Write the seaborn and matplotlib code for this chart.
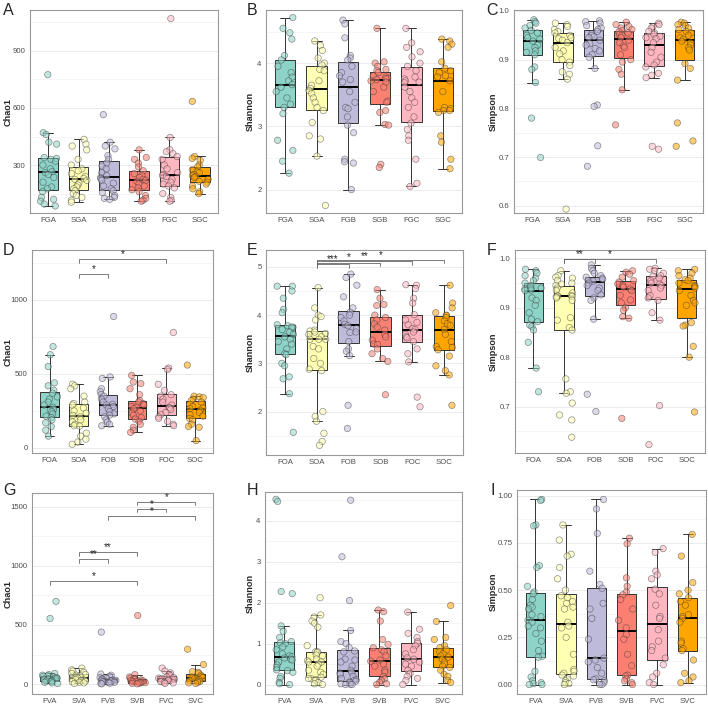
import numpy as np
import pandas as pd
import seaborn as sns
import matplotlib.pyplot as plt

# gruppi (asse x) per riga
groups_row1 = ["FGA", "SGA", "FGB", "SGB", "FGC", "SGC"]
groups_row2 = ["FOA", "SOA", "FOB", "SOB", "FOC", "SOC"]
groups_row3 = ["FVA", "SVA", "FVB", "SVB", "FVC", "SVC"]

# A - Chao1
chao1_A = [
    [775, 470, 460, 420, 410, 335, 330, 340, 320, 300, 280, 265, 260, 250, 235, 210, 185, 175, 160, 130, 120, 110, 95, 85],
    [435, 410, 400, 380, 330, 300, 280, 270, 255, 240, 230, 225, 220, 205, 195, 185, 175, 165, 150, 140, 130, 115, 105],
    [565, 420, 400, 385, 350, 330, 310, 295, 280, 260, 245, 235, 228, 220, 205, 190, 175, 165, 155, 140, 130, 125, 120],
    [380, 340, 330, 310, 290, 270, 255, 245, 235, 225, 220, 215, 200, 190, 180, 170, 160, 140, 125, 115, 110],
    [1070, 445, 380, 370, 360, 345, 330, 300, 280, 260, 250, 245, 240, 225, 210, 200, 190, 180, 150, 130, 115, 110],
    [635, 345, 335, 325, 300, 290, 275, 265, 260, 250, 245, 240, 235, 225, 215, 210, 200, 190, 175, 160, 150],
]
# B - Shannon
shannon_B = [
    [4.72, 4.55, 4.48, 4.38, 4.12, 4.05, 3.95, 3.85, 3.78, 3.72, 3.66, 3.62, 3.55, 3.45, 3.35, 3.3, 3.2, 2.78, 2.62, 2.45, 2.26],
    [4.35, 4.28, 4.2, 4.08, 4.0, 3.97, 3.9, 3.88, 3.72, 3.65, 3.6, 3.57, 3.52, 3.45, 3.38, 3.3, 3.25, 3.06, 2.85, 2.8, 2.53, 1.75],
    [4.68, 4.62, 4.4, 4.12, 4.08, 4.05, 3.95, 3.85, 3.8, 3.74, 3.7, 3.55, 3.38, 3.3, 3.28, 3.15, 3.02, 2.9, 2.48, 2.44, 2.42, 2.0],
    [4.55, 4.02, 4.0, 3.95, 3.9, 3.88, 3.85, 3.8, 3.78, 3.76, 3.75, 3.74, 3.72, 3.7, 3.62, 3.55, 3.4, 3.38, 3.25, 3.22, 3.03, 3.02, 2.4, 2.35],
    [4.55, 4.32, 4.25, 4.18, 4.1, 4.0, 3.95, 3.88, 3.78, 3.75, 3.72, 3.7, 3.69, 3.62, 3.55, 3.45, 3.38, 3.3, 3.15, 3.05, 2.95, 2.85, 2.78, 2.48, 2.1, 2.05],
    [4.38, 4.35, 4.3, 4.25, 4.02, 3.92, 3.88, 3.85, 3.8, 3.78, 3.72, 3.55, 3.3, 3.28, 3.25, 3.25, 3.22, 2.85, 2.75, 2.48, 2.33],
]
# C - Simpson
simpson_C = [
    [0.982, 0.978, 0.975, 0.97, 0.965, 0.96, 0.955, 0.95, 0.945, 0.942, 0.938, 0.93, 0.925, 0.918, 0.915, 0.91, 0.885, 0.88, 0.853, 0.78, 0.699],
    [0.975, 0.972, 0.968, 0.962, 0.958, 0.955, 0.95, 0.945, 0.943, 0.94, 0.935, 0.925, 0.918, 0.912, 0.9, 0.895, 0.888, 0.875, 0.87, 0.86, 0.593],
    [0.98, 0.978, 0.975, 0.97, 0.965, 0.962, 0.958, 0.953, 0.95, 0.947, 0.945, 0.94, 0.933, 0.93, 0.923, 0.918, 0.91, 0.905, 0.882, 0.807, 0.804, 0.723, 0.681],
    [0.977, 0.972, 0.968, 0.965, 0.962, 0.96, 0.957, 0.955, 0.952, 0.95, 0.945, 0.94, 0.935, 0.928, 0.925, 0.91, 0.9, 0.895, 0.88, 0.87, 0.838, 0.766],
    [0.975, 0.972, 0.968, 0.965, 0.958, 0.955, 0.952, 0.948, 0.945, 0.943, 0.935, 0.925, 0.915, 0.905, 0.895, 0.889, 0.885, 0.872, 0.868, 0.863, 0.722, 0.716],
    [0.977, 0.975, 0.972, 0.97, 0.965, 0.962, 0.958, 0.955, 0.95, 0.945, 0.942, 0.938, 0.935, 0.93, 0.925, 0.92, 0.892, 0.882, 0.858, 0.77, 0.733, 0.722],
]
# D - Chao1
chao1_D = [
    [685, 630, 550, 440, 420, 390, 370, 345, 330, 310, 290, 275, 262, 255, 245, 230, 215, 205, 190, 170, 145, 120, 80],
    [430, 420, 400, 350, 310, 300, 290, 270, 250, 235, 220, 210, 190, 175, 160, 150, 148, 100, 80, 60, 40, 25],
    [888, 480, 470, 400, 380, 360, 350, 330, 310, 295, 290, 280, 265, 245, 230, 222, 210, 190, 175, 160, 150],
    [490, 445, 435, 400, 360, 320, 310, 300, 290, 280, 275, 265, 250, 235, 220, 205, 195, 180, 160, 140, 120, 105],
    [780, 540, 530, 430, 390, 360, 350, 330, 310, 290, 275, 270, 260, 240, 225, 210, 200, 180, 160, 150],
    [560, 350, 345, 340, 330, 320, 310, 295, 280, 270, 265, 255, 240, 225, 215, 200, 190, 160, 145, 140, 50],
]
# E - Shannon
shannon_E = [
    [4.6, 4.6, 4.5, 4.35, 4.12, 4.05, 3.8, 3.78, 3.75, 3.75, 3.7, 3.65, 3.6, 3.55, 3.5, 3.45, 3.4, 3.3, 3.2, 3.18, 3.0, 2.95, 2.72, 2.68, 2.37, 1.57],
    [4.57, 4.15, 4.0, 3.97, 3.9, 3.69, 3.67, 3.65, 3.62, 3.6, 3.55, 3.5, 3.5, 3.5, 3.35, 3.3, 3.1, 3.0, 2.88, 2.85, 2.0, 1.9, 1.8, 1.55, 1.38, 1.3],
    [4.85, 4.78, 4.62, 4.38, 4.15, 4.06, 4.0, 3.95, 3.88, 3.81, 3.78, 3.72, 3.65, 3.64, 3.45, 3.3, 3.25, 3.16, 2.13, 1.65],
    [4.53, 4.35, 4.22, 4.2, 4.0, 3.95, 3.9, 3.82, 3.75, 3.69, 3.6, 3.55, 3.48, 3.4, 3.39, 3.3, 3.2, 3.1, 3.04, 2.35],
    [4.63, 4.62, 4.55, 4.35, 4.25, 4.01, 3.9, 3.85, 3.8, 3.72, 3.7, 3.65, 3.6, 3.55, 3.53, 3.45, 3.3, 3.2, 3.03, 2.3, 2.1],
    [4.62, 4.25, 4.15, 4.05, 4.0, 3.99, 3.95, 3.88, 3.82, 3.79, 3.7, 3.6, 3.45, 3.35, 3.33, 3.28, 3.15, 2.95, 2.85, 2.76, 2.13],
]
# F - Simpson
simpson_F = [
    [0.978, 0.975, 0.97, 0.965, 0.96, 0.955, 0.95, 0.945, 0.94, 0.94, 0.938, 0.936, 0.935, 0.92, 0.915, 0.905, 0.89, 0.877, 0.872, 0.865, 0.862, 0.855, 0.83, 0.778, 0.73],
    [0.975, 0.965, 0.962, 0.96, 0.955, 0.95, 0.948, 0.945, 0.94, 0.935, 0.93, 0.925, 0.924, 0.924, 0.923, 0.922, 0.92, 0.915, 0.88, 0.875, 0.86, 0.855, 0.756, 0.73, 0.727, 0.707, 0.683, 0.673, 0.638],
    [0.987, 0.98, 0.975, 0.97, 0.965, 0.962, 0.96, 0.958, 0.955, 0.954, 0.95, 0.945, 0.94, 0.935, 0.926, 0.92, 0.915, 0.877, 0.725, 0.69],
    [0.975, 0.972, 0.968, 0.962, 0.955, 0.952, 0.948, 0.945, 0.942, 0.938, 0.935, 0.925, 0.916, 0.91, 0.9, 0.895, 0.882, 0.879, 0.676],
    [0.98, 0.978, 0.975, 0.97, 0.965, 0.964, 0.96, 0.955, 0.95, 0.948, 0.945, 0.94, 0.935, 0.925, 0.92, 0.915, 0.89, 0.875, 0.702, 0.623],
    [0.978, 0.975, 0.97, 0.965, 0.96, 0.957, 0.955, 0.95, 0.945, 0.943, 0.94, 0.935, 0.925, 0.915, 0.91, 0.905, 0.87, 0.865, 0.863, 0.822, 0.8, 0.689],
]
# G - Chao1
chao1_G = [
    [700, 555, 90, 80, 75, 70, 65, 60, 55, 50, 48, 45, 42, 40, 35, 30, 25, 20, 15, 10, 5],
    [135, 120, 110, 100, 90, 80, 75, 70, 60, 55, 50, 45, 40, 35, 30, 25, 20, 15, 10, 5],
    [440, 85, 75, 65, 55, 48, 45, 40, 35, 32, 30, 28, 25, 20, 18, 15, 12, 8, 5, 2],
    [580, 80, 60, 50, 45, 40, 35, 30, 28, 25, 22, 20, 15, 12, 10, 8, 5, 2],
    [135, 110, 95, 80, 70, 60, 55, 50, 45, 42, 40, 35, 30, 25, 20, 15, 10, 5],
    [295, 165, 105, 100, 90, 75, 65, 60, 55, 50, 45, 42, 38, 30, 25, 20, 15, 10, 5],
]
# H - Shannon
shannon_H = [
    [4.52, 4.47, 2.27, 2.22, 1.43, 1.3, 1.15, 1.05, 1.02, 1.0, 0.92, 0.85, 0.75, 0.7, 0.68, 0.65, 0.62, 0.6, 0.55, 0.48, 0.42, 0.36, 0.34, 0.3, 0.2, 0.15, 0.05, 0.02, 0.0],
    [2.12, 1.7, 1.65, 1.55, 1.5, 1.4, 0.95, 0.8, 0.8, 0.78, 0.72, 0.7, 0.62, 0.58, 0.55, 0.55, 0.5, 0.45, 0.35, 0.3, 0.25, 0.14, 0.18, 0.15, 0.12, 0.1, 0.05, 0.02, 0.0],
    [4.5, 3.12, 2.05, 1.32, 1.05, 1.0, 0.9, 0.82, 0.8, 0.62, 0.6, 0.55, 0.45, 0.35, 0.3, 0.28, 0.25, 0.2, 0.15, 0.12, 0.1, 0.08, 0.06, 0.05, 0.02, 0.01, 0.0, 0.0],
    [1.82, 1.78, 1.55, 1.1, 0.98, 0.9, 0.85, 0.8, 0.7, 0.6, 0.57, 0.5, 0.45, 0.35, 0.3, 0.2, 0.14, 0.1, 0.05, 0.02, 0.0],
    [1.77, 1.35, 1.25, 1.15, 1.05, 1.01, 0.95, 0.85, 0.75, 0.65, 0.62, 0.55, 0.5, 0.45, 0.35, 0.27, 0.2, 0.15, 0.1, 0.0],
    [1.93, 1.54, 1.15, 1.1, 0.95, 0.9, 0.85, 0.8, 0.75, 0.7, 0.67, 0.62, 0.55, 0.5, 0.45, 0.42, 0.35, 0.25, 0.2, 0.1, 0.05],
]
# I - Simpson
simpson_I = [
    [0.98, 0.975, 0.845, 0.84, 0.63, 0.62, 0.52, 0.49, 0.48, 0.45, 0.42, 0.41, 0.4, 0.37, 0.36, 0.34, 0.33, 0.31, 0.3, 0.27, 0.23, 0.18, 0.15, 0.145, 0.07, 0.04, 0.02, 0.01, 0.005, 0.0, 0.0],
    [0.845, 0.765, 0.69, 0.68, 0.62, 0.56, 0.5, 0.47, 0.46, 0.44, 0.43, 0.41, 0.4, 0.33, 0.31, 0.3, 0.25, 0.16, 0.08, 0.07, 0.06, 0.05, 0.045, 0.03, 0.02, 0.01, 0.005, 0.0],
    [0.98, 0.93, 0.8, 0.6, 0.53, 0.51, 0.43, 0.4, 0.35, 0.24, 0.14, 0.13, 0.12, 0.09, 0.06, 0.03, 0.025, 0.02, 0.01, 0.0, 0.0],
    [0.775, 0.745, 0.565, 0.52, 0.49, 0.475, 0.45, 0.4, 0.34, 0.3, 0.265, 0.24, 0.16, 0.1, 0.05, 0.045, 0.03, 0.02, 0.01, 0.0],
    [0.72, 0.7, 0.6, 0.58, 0.56, 0.505, 0.48, 0.42, 0.36, 0.35, 0.29, 0.23, 0.2, 0.18, 0.14, 0.105, 0.06, 0.04, 0.01, 0.0],
    [0.795, 0.68, 0.54, 0.5, 0.48, 0.46, 0.44, 0.42, 0.37, 0.36, 0.35, 0.33, 0.23, 0.22, 0.19, 0.18, 0.13, 0.06, 0.04, 0.02, 0.01],
]

# confronti significativi: (gruppo1, gruppo2, altezza, etichetta)
signif_D = [("SOA", "FOB", 1173, "*"), ("SOA", "FOC", 1274, "*")]
signif_E = [("SOA", "FOB", 5.06, "***"), ("SOA", "SOB", 5.09, "*"),
            ("SOA", "FOC", 5.12, "**"), ("SOA", "SOC", 5.15, "*")]
signif_F = [("SOA", "FOB", 0.998, "**"), ("SOA", "FOC", 0.998, "*")]
signif_G = [("FVA", "SVB", 872, "*"), ("SVA", "FVB", 1059, "**"), ("SVA", "SVB", 1117, "**"),
            ("FVB", "SVC", 1422, "*"), ("SVB", "FVC", 1483, "*"), ("SVB", "SVC", 1542, "*")]

palette = ["#8DD3C7", "#FFFFB3", "#BEBADA", "#FB8072", "#FFB6C1", "#FFA500"]

sns.set_style("white")
plt.rcParams["font.family"] = ["Liberation Sans", "DejaVu Sans"]

fig = plt.figure(figsize=(7.08, 7.08), dpi=100)
W = H = 708.0


def add_ax(l, r, t, b):
    return fig.add_axes([l / W, 1 - b / H, (r - l) / W, (b - t) / H])


# lettera, riquadro (l, r, t, b in px), gruppi, dati, etichetta y, limiti, tick, formato, confronti,
# posizione lettera, centro x etichetta y (px)
panels = [
    ("A", (30, 218, 10, 213), groups_row1, chao1_A, "Chao1", (48, 1115), [300, 600, 900], "{:.0f}", [], (3, 3), 8),
    ("B", (266, 462, 10, 213), groups_row1, shannon_B, "Shannon", (1.63, 4.84), [2, 3, 4], "{:.0f}", [], (247, 3), 250),
    ("C", (514, 703, 10, 213), groups_row1, simpson_C, "Simpson", (0.585, 1.002), [0.6, 0.7, 0.8, 0.9, 1.0], "{:.1f}", [], (486, 3), 493),
    ("D", (32, 213, 250, 453), groups_row2, chao1_D, "Chao1", (-34, 1337), [0, 500, 1000], "{:.0f}", signif_D, (3, 243), 8),
    ("E", (266, 463, 250, 455), groups_row2, shannon_E, "Shannon", (1.1, 5.35), [2, 3, 4, 5], "{:.0f}", signif_E, (247, 243), 250),
    ("F", (515, 705, 250, 453), groups_row2, simpson_F, "Simpson", (0.606, 1.017), [0.7, 0.8, 0.9, 1.0], "{:.1f}", signif_F, (487, 243), 493),
    ("G", (32, 213, 493, 694), groups_row3, chao1_G, "Chao1", (-84, 1617), [0, 500, 1000, 1500], "{:.0f}", signif_G, (3, 483), 8),
    ("H", (265, 462, 492, 694), groups_row3, shannon_H, "Shannon", (-0.23, 4.7), [0, 1, 2, 3, 4], "{:.0f}", [], (247, 483), 250),
    ("I", (517, 706, 490, 694), groups_row3, simpson_I, "Simpson", (-0.05, 1.03), [0, 0.25, 0.5, 0.75, 1.0], "{:.2f}", [], (490, 483), 493),
]

for letter, box, groups, values, ylab, ylim, yticks, fmt, signif, lpos, ylab_x in panels:
    ax = add_ax(*box)
    df = pd.DataFrame({"group": [g for g, v in zip(groups, values) for _ in v],
                       "value": [x for v in values for x in v]})

    # griglia stile theme_bw
    ax.set_ylim(*ylim)
    step = yticks[1] - yticks[0]
    minor = [t + step / 2 for t in [yticks[0] - step] + yticks]
    ax.set_yticks(minor, minor=True)
    ax.set_axisbelow(True)
    ax.grid(True, which="major", color="#EBEBEB", linewidth=0.7)
    ax.grid(True, which="minor", axis="y", color="#F2F2F2", linewidth=0.5)

    sns.boxplot(data=df, x="group", y="value", hue="group", order=groups, hue_order=groups,
                palette=palette, legend=False, showfliers=False, width=0.64, ax=ax,
                linewidth=0.7, linecolor="#333333", saturation=1,
                medianprops={"color": "black", "linewidth": 1.4})
    sns.stripplot(data=df, x="group", y="value", hue="group", order=groups, hue_order=groups,
                  palette=palette, legend=False, jitter=0.28, size=4.6, alpha=0.55,
                  edgecolor="#333333", linewidth=0.5, ax=ax)

    ax.set_ylim(*ylim)
    ax.set_xlim(-0.6, 5.6)
    ax.set_yticks(yticks)
    ax.set_yticklabels([fmt.format(t) for t in yticks])
    ax.tick_params(axis="both", labelsize=5.6, colors="#4D4D4D", length=2, width=0.5, pad=1.2)
    ax.tick_params(axis="y", which="minor", length=0)
    ax.set_xlabel("")
    ax.set_ylabel(ylab, fontsize=6.6, fontweight="bold")
    ax.yaxis.label.set_va("center")
    ax.yaxis.set_label_coords((ylab_x - box[0]) / (box[1] - box[0]), 0.5)
    for s in ax.spines.values():
        s.set_color("#999999")
        s.set_linewidth(0.8)

    # parentesi di significativita
    tip = (ylim[1] - ylim[0]) * 0.018
    for g1, g2, yb, lab in signif:
        x1, x2 = groups.index(g1), groups.index(g2)
        ax.plot([x1, x1, x2, x2], [yb - tip, yb, yb, yb - tip], color="#666666", linewidth=0.6)
        ax.text((x1 + x2) / 2, yb, lab, ha="center", va="bottom", fontsize=7, color="#222222")

    fig.text(lpos[0] / W, 1 - lpos[1] / H, letter, fontsize=11.5, ha="left", va="top")

fig.savefig("out.png", dpi=100)
